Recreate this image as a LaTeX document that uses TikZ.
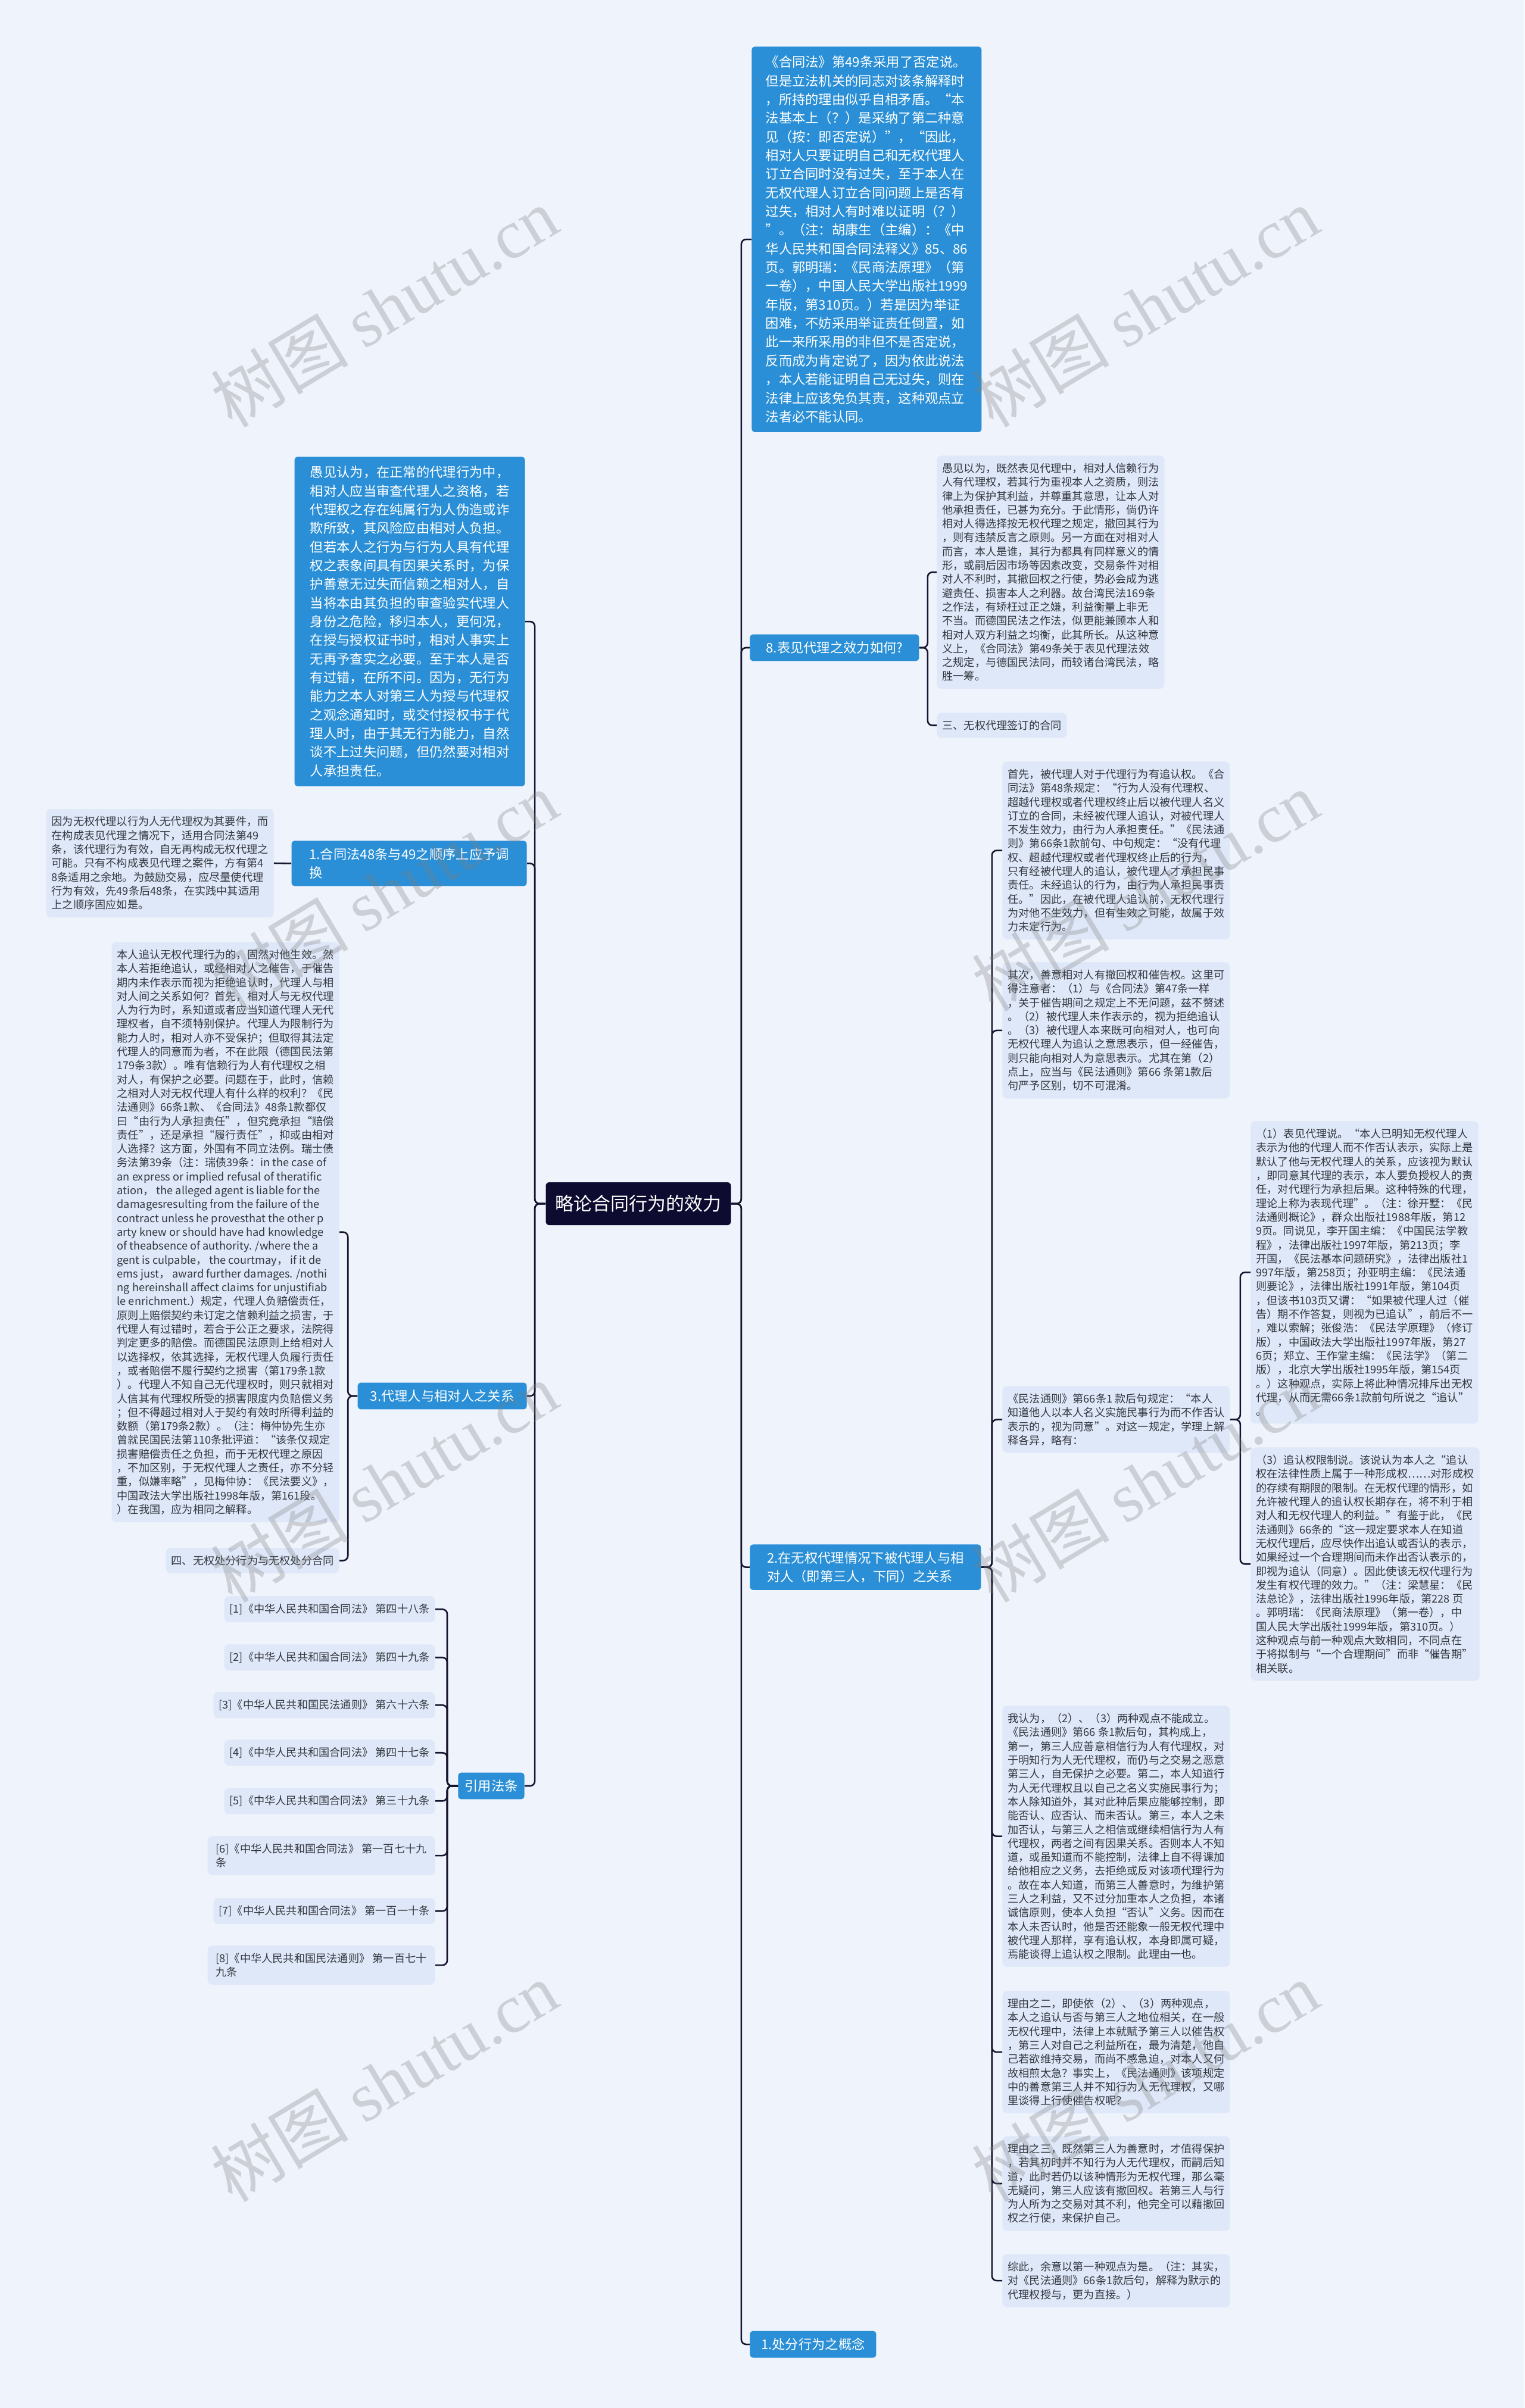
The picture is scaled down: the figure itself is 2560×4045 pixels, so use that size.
\documentclass[tikz,border=0pt]{standalone}
\usepackage{fontspec}
\setmainfont{Noto Sans CJK SC}
\newfontfamily\wmserif{Liberation Serif}
\usetikzlibrary{positioning}
\definecolor{bgc}{HTML}{EEF3FC}
\definecolor{leafc}{HTML}{DFE8F8}
\definecolor{bluec}{HTML}{2A8FD6}
\definecolor{rootc}{HTML}{0E0B30}
\definecolor{linec}{HTML}{16142E}
\definecolor{textc}{HTML}{333740}

\begin{document}
\begin{tikzpicture}[x=0.5pt, y=-0.5pt,
  root/.style={fill=rootc, rounded corners=3pt, text=white, font=\fontsize{15.5pt}{18pt}\selectfont, minimum width=155.5pt, minimum height=36pt},
  topic/.style={fill=bluec, text=white, rounded corners=2.5pt, align=left, inner xsep=5.5pt, inner ysep=7.8pt, font=\fontsize{11.15pt}{15.67pt}\selectfont},
  sub/.style={topic, inner ysep=6pt},
  leaf/.style={fill=leafc, text=textc, rounded corners=4pt, align=left, inner xsep=4.5pt, inner ysep=6.3pt, font=\fontsize{9.1pt}{11.65pt}\selectfont},
  wide/.style={minimum width=191pt},
  link/.style={draw=linec, line width=1.3pt, rounded corners=4pt},
  wmark/.style={rotate=31, text=gray, opacity=0.3, font=\fontsize{58pt}{66pt}\selectfont}]
  \useasboundingbox (0,0) rectangle (2560,4045);
  \fill[bgc] (0,0) rectangle (2560,4045);

  \node[root] (root) at (1072,2022) {略论合同行为的效力};

  % right side
  \node[topic, anchor=north west, minimum width=193pt] (law49) at (1262,78) {《合同法》第49条采用了否定说。\\
但是立法机关的同志对该条解释时\\
，所持的理由似乎自相矛盾。“本\\
法基本上（？）是采纳了第二种意\\
见（按：即否定说）”，“因此，\\
相对人只要证明自己和无权代理人\\
订立合同时没有过失，至于本人在\\
无权代理人订立合同问题上是否有\\
过失，相对人有时难以证明（？）\\
”。（注：胡康生（主编）：《中\\
华人民共和国合同法释义》85、86\\
页。郭明瑞：《民商法原理》（第\\
一卷），中国人民大学出版社1999\\
年版，第310页。）若是因为举证\\
困难，不妨采用举证责任倒置，如\\
此一来所采用的非但不是否定说，\\
反而成为肯定说了，因为依此说法\\
，本人若能证明自己无过失，则在\\
法律上应该免负其责，这种观点立\\
法者必不能认同。};

  \node[sub, anchor=west, minimum width=142pt] (q8) at (1259,1088) {8.表见代理之效力如何?};
  \node[leaf, anchor=north west, minimum width=190pt] (yjyw) at (1573,765) {愚见以为，既然表见代理中，相对人信赖行为\\
人有代理权，若其行为重视本人之资质，则法\\
律上为保护其利益，并尊重其意思，让本人对\\
他承担责任，已甚为充分。于此情形，倘仍许\\
相对人得选择按无权代理之规定，撤回其行为\\
，则有违禁反言之原则。另一方面在对相对人\\
而言，本人是谁，其行为都具有同样意义的情\\
形，或嗣后因市场等因素改变，交易条件对相\\
对人不利时，其撤回权之行使，势必会成为逃\\
避责任、损害本人之利器。故台湾民法169条\\
之作法，有矫枉过正之嫌，利益衡量上非无\\
不当。而德国民法之作法，似更能兼顾本人和\\
相对人双方利益之均衡，此其所长。从这种意\\
义上，《合同法》第49条关于表见代理法效\\
之规定，与德国民法同，而较诸台湾民法，略\\
胜一筹。};
  \node[leaf, anchor=north west] (sanwq) at (1573,1197) {三、无权代理签订的合同};

  \node[sub, anchor=north west, minimum width=194pt] (rel) at (1259,2594) {2.在无权代理情况下被代理人与相\\
对人（即第三人，下同）之关系};
  \node[leaf, wide, anchor=north west] (shouxian) at (1683,1279) {首先，被代理人对于代理行为有追认权。《合\\
同法》第48条规定：“行为人没有代理权、\\
超越代理权或者代理权终止后以被代理人名义\\
订立的合同，未经被代理人追认，对被代理人\\
不发生效力，由行为人承担责任。”《民法通\\
则》第66条1款前句、中句规定：“没有代理\\
权、超越代理权或者代理权终止后的行为，\\
只有经被代理人的追认，被代理人才承担民事\\
责任。未经追认的行为，由行为人承担民事责\\
任。”因此，在被代理人追认前，无权代理行\\
为对他不生效力，但有生效之可能，故属于效\\
力未定行为。};
  \node[leaf, wide, anchor=north west] (qici) at (1683,1616) {其次，善意相对人有撤回权和催告权。这里可\\
得注意者：（1）与《合同法》第47条一样\\
，关于催告期间之规定上不无问题，兹不赘述\\
。（2）被代理人未作表示的，视为拒绝追认\\
。（3）被代理人本来既可向相对人，也可向\\
无权代理人为追认之意思表示，但一经催告，\\
则只能向相对人为意思表示。尤其在第（2）\\
点上，应当与《民法通则》第66 条第1款后\\
句严予区别，切不可混淆。};
  \node[leaf, wide, anchor=north west] (mf66) at (1683,2328) {《民法通则》第66条1 款后句规定：“本人\\
知道他人以本人名义实施民事行为而不作否认\\
表示的，视为同意”。对这一规定，学理上解\\
释各异，略有：};
  \node[leaf, wide, anchor=north west] (shuo1) at (2100,1883) {（1）表见代理说。“本人已明知无权代理人\\
表示为他的代理人而不作否认表示，实际上是\\
默认了他与无权代理人的关系，应该视为默认\\
，即同意其代理的表示，本人要负授权人的责\\
任，对代理行为承担后果。这种特殊的代理，\\
理论上称为表现代理”。（注：徐开墅：《民\\
法通则概论》，群众出版社1988年版，第12\\
9页。同说见，李开国主编：《中国民法学教\\
程》，法律出版社1997年版，第213页；李\\
开国，《民法基本问题研究》，法律出版社1\\
997年版，第258页；孙亚明主编：《民法通\\
则要论》，法律出版社1991年版，第104页\\
，但该书103页又谓：“如果被代理人过（催\\
告）期不作答复，则视为已追认”，前后不一\\
，难以索解；张俊浩：《民法学原理》（修订\\
版），中国政法大学出版社1997年版，第27\\
6页；郑立、王作堂主编：《民法学》（第二\\
版），北京大学出版社1995年版，第154页\\
。）这种观点，实际上将此种情况排斥出无权\\
代理，从而无需66条1款前句所说之“追认”\\
。};
  \node[leaf, wide, anchor=north west] (shuo3) at (2100,2431) {（3）追认权限制说。该说认为本人之“追认\\
权在法律性质上属于一种形成权……对形成权\\
的存续有期限的限制。在无权代理的情形，如\\
允许被代理人的追认权长期存在，将不利于相\\
对人和无权代理人的利益。”有鉴于此，《民\\
法通则》66条的“这一规定要求本人在知道\\
无权代理后，应尽快作出追认或否认的表示，\\
如果经过一个合理期间而未作出否认表示的，\\
即视为追认（同意）。因此使该无权代理行为\\
发生有权代理的效力。”（注：梁慧星：《民\\
法总论》，法律出版社1996年版，第228 页\\
。郭明瑞：《民商法原理》（第一卷），中\\
国人民大学出版社1999年版，第310页。）\\
这种观点与前一种观点大致相同，不同点在\\
于将拟制与“一个合理期间”而非“催告期”\\
相关联。};
  \node[leaf, wide, anchor=north west] (woren) at (1683,2865) {我认为，（2）、（3）两种观点不能成立。\\
《民法通则》第66 条1款后句，其构成上，\\
第一，第三人应善意相信行为人有代理权，对\\
于明知行为人无代理权，而仍与之交易之恶意\\
第三人，自无保护之必要。第二，本人知道行\\
为人无代理权且以自己之名义实施民事行为；\\
本人除知道外，其对此种后果应能够控制，即\\
能否认、应否认、而未否认。第三，本人之未\\
加否认，与第三人之相信或继续相信行为人有\\
代理权，两者之间有因果关系。否则本人不知\\
道，或虽知道而不能控制，法律上自不得课加\\
给他相应之义务，去拒绝或反对该项代理行为\\
。故在本人知道，而第三人善意时，为维护第\\
三人之利益，又不过分加重本人之负担，本诸\\
诚信原则，使本人负担“否认”义务。因而在\\
本人未否认时，他是否还能象一般无权代理中\\
被代理人那样，享有追认权，本身即属可疑，\\
焉能谈得上追认权之限制。此理由一也。};
  \node[leaf, wide, anchor=north west] (liyou2) at (1683,3344) {理由之二，即使依（2）、（3）两种观点，\\
本人之追认与否与第三人之地位相关，在一般\\
无权代理中，法律上本就赋予第三人以催告权\\
，第三人对自己之利益所在，最为清楚，他自\\
己若欲维持交易，而尚不感急迫，对本人又何\\
故相煎太急？事实上，《民法通则》该项规定\\
中的善意第三人并不知行为人无代理权，又哪\\
里谈得上行使催告权呢？};
  \node[leaf, wide, anchor=north west] (liyou3) at (1683,3588) {理由之三，既然第三人为善意时，才值得保护\\
，若其初时并不知行为人无代理权，而嗣后知\\
道，此时若仍以该种情形为无权代理，那么毫\\
无疑问，第三人应该有撤回权。若第三人与行\\
为人所为之交易对其不利，他完全可以藉撤回\\
权之行使，来保护自己。};
  \node[leaf, wide, anchor=north west] (zongci) at (1683,3786) {综此，余意以第一种观点为是。（注：其实，\\
对《民法通则》66条1款后句，解释为默示的\\
代理权授与，更为直接。）};

  \node[sub, anchor=west, minimum width=106pt] (chufen) at (1259,3938) {1.处分行为之概念};

  % left side
  \node[topic, anchor=north east, minimum width=193.5pt] (yujian) at (882,767) {愚见认为，在正常的代理行为中，\\
相对人应当审查代理人之资格，若\\
代理权之存在纯属行为人伪造或诈\\
欺所致，其风险应由相对人负担。\\
但若本人之行为与行为人具有代理\\
权之表象间具有因果关系时，为保\\
护善意无过失而信赖之相对人，自\\
当将本由其负担的审查验实代理人\\
身份之危险，移归本人，更何况，\\
在授与授权证书时，相对人事实上\\
无再予查实之必要。至于本人是否\\
有过错，在所不问。因为，无行为\\
能力之本人对第三人为授与代理权\\
之观念通知时，或交付授权书于代\\
理人时，由于其无行为能力，自然\\
谈不上过失问题，但仍然要对相对\\
人承担责任。};

  \node[sub, anchor=north east, minimum width=197.5pt] (he48) at (885,1412) {1.合同法48条与49之顺序上应予调\\
换};
  \node[leaf, wide, anchor=east] (yinwei) at (460,1450) {因为无权代理以行为人无代理权为其要件，而\\
在构成表见代理之情况下，适用合同法第49\\
条，该代理行为有效，自无再构成无权代理之\\
可能。只有不构成表见代理之案件，方有第4\\
8条适用之余地。为鼓励交易，应尽量使代理\\
行为有效，先49条后48条，在实践中其适用\\
上之顺序固应如是。};

  \node[sub, anchor=east, minimum width=142pt] (dl3) at (885,2345) {3.代理人与相对人之关系};
  \node[leaf, wide, anchor=north east] (benren) at (570,1582) {本人追认无权代理行为的，固然对他生效。然\\
本人若拒绝追认，或经相对人之催告，于催告\\
期内未作表示而视为拒绝追认时，代理人与相\\
对人间之关系如何？首先，相对人与无权代理\\
人为行为时，系知道或者应当知道代理人无代\\
理权者，自不须特别保护。代理人为限制行为\\
能力人时，相对人亦不受保护；但取得其法定\\
代理人的同意而为者，不在此限（德国民法第\\
179条3款）。唯有信赖行为人有代理权之相\\
对人，有保护之必要。问题在于，此时，信赖\\
之相对人对无权代理人有什么样的权利？《民\\
法通则》66条1款、《合同法》48条1款都仅\\
曰“由行为人承担责任”，但究竟承担“赔偿\\
责任”，还是承担“履行责任”，抑或由相对\\
人选择？这方面，外国有不同立法例。瑞士债\\
务法第39条（注：瑞债39条：in the case of\\
an express or implied refusal of theratific\\
ation， the alleged agent is liable for the\\
damagesresulting from the failure of the\\
contract unless he provesthat the other p\\
arty knew or should have had knowledge\\
of theabsence of authority. /where the a\\
gent is culpable， the courtmay， if it de\\
ems just， award further damages. /nothi\\
ng hereinshall affect claims for unjustifiab\\
le enrichment.）规定，代理人负赔偿责任，\\
原则上赔偿契约未订定之信赖利益之损害，于\\
代理人有过错时，若合于公正之要求，法院得\\
判定更多的赔偿。而德国民法原则上给相对人\\
以选择权，依其选择，无权代理人负履行责任\\
，或者赔偿不履行契约之损害（第179条1款\\
）。代理人不知自己无代理权时，则只就相对\\
人信其有代理权所受的损害限度内负赔偿义务\\
；但不得超过相对人于契约有效时所得利益的\\
数额（第179条2款）。（注：梅仲协先生亦\\
曾就民国民法第110条批评道：“该条仅规定\\
损害赔偿责任之负担，而于无权代理之原因\\
，不加区别，于无权代理人之责任，亦不分轻\\
重，似嫌率略”，见梅仲协：《民法要义》，\\
中国政法大学出版社1998年版，第161段。\\
）在我国，应为相同之解释。};
  \node[leaf, anchor=north east] (siwq) at (570,2600) {四、无权处分行为与无权处分合同};

  \node[sub, anchor=east] (yinyong) at (881,3000) {引用法条};
  \node[leaf, anchor=north east] (ref1) at (731,2681) {[1]《中华人民共和国合同法》 第四十八条};
  \node[leaf, anchor=north east] (ref2) at (731,2762) {[2]《中华人民共和国合同法》 第四十九条};
  \node[leaf, anchor=north east] (ref3) at (731,2842) {[3]《中华人民共和国民法通则》 第六十六条};
  \node[leaf, anchor=north east] (ref4) at (731,2922) {[4]《中华人民共和国合同法》 第四十七条};
  \node[leaf, anchor=north east] (ref5) at (731,3003) {[5]《中华人民共和国合同法》 第三十九条};
  \node[leaf, wide, anchor=north east] (ref6) at (731,3084) {[6]《中华人民共和国合同法》 第一百七十九\\
条};
  \node[leaf, anchor=north east] (ref7) at (731,3188) {[7]《中华人民共和国合同法》 第一百一十条};
  \node[leaf, wide, anchor=north east] (ref8) at (731,3268) {[8]《中华人民共和国民法通则》 第一百七十\\
九条};

  % connectors
  \foreach \c in {law49,q8,rel,chufen}
    \draw[link] (root.east) -- ++(17,0) |- (\c.west);
  \foreach \c in {yujian,he48,dl3,yinyong}
    \draw[link] (root.west) -- ++(-18,0) |- (\c.east);
  \foreach \c in {yjyw,sanwq}
    \draw[link] (q8.east) -- ++(14,0) |- (\c.west);
  \foreach \c in {shouxian,qici,mf66,woren,liyou2,liyou3,zongci}
    \draw[link] (rel.east) -- ++(18,0) |- (\c.west);
  \foreach \c in {shuo1,shuo3}
    \draw[link] (mf66.east) -- ++(17,0) |- (\c.west);
  \draw[link] (he48.west) -- (yinwei.east);
  \foreach \c in {benren,siwq}
    \draw[link] (dl3.west) -- ++(-16,0) |- (\c.east);
  \foreach \c in {ref1,ref2,ref3,ref4,ref5,ref6,ref7,ref8}
    \draw[link] (yinyong.west) -- ++(-18,0) |- (\c.east);

  % watermarks
  \foreach \wx in {645,1923}
    \foreach \wy in {516,1497,2490,3497}
      \node[wmark] (wm\wx\wy) at (\wx,\wy) {树图 {\wmserif shutu.cn}};
\end{tikzpicture}
\end{document}
